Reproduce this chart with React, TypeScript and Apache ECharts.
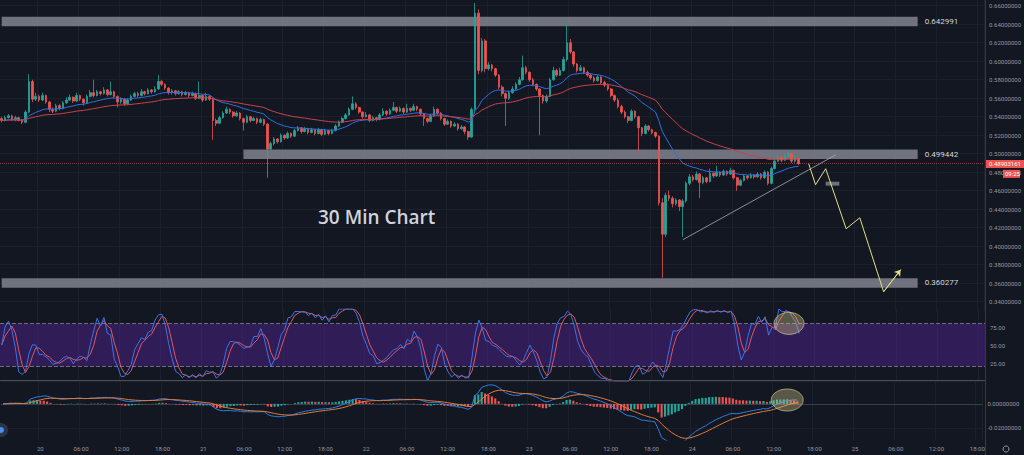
import React, { useEffect, useRef } from 'react';
import * as echarts from 'echarts';

// ---------- data (30 min candles, XRP-like pair) ----------
const firstOpen = 0.538;
const closes = [
  0.536, 0.539, 0.541, 0.537, 0.539, 0.536, 0.534, 0.545, 0.578, 0.559,
  0.562, 0.558, 0.563, 0.556, 0.548, 0.546, 0.552, 0.549, 0.555, 0.558,
  0.561, 0.557, 0.563, 0.559, 0.555, 0.562, 0.566, 0.563, 0.567, 0.565,
  0.569, 0.564, 0.567, 0.562, 0.556, 0.559, 0.554, 0.558, 0.562, 0.565,
  0.563, 0.567, 0.565, 0.569, 0.567, 0.570, 0.578, 0.575, 0.571, 0.566,
  0.568, 0.565, 0.567, 0.564, 0.566, 0.563, 0.565, 0.560, 0.563, 0.558,
  0.562, 0.559, 0.536, 0.533, 0.539, 0.544, 0.548, 0.545, 0.541, 0.544,
  0.538, 0.534, 0.540, 0.536, 0.538, 0.534, 0.537, 0.532, 0.505, 0.511,
  0.516, 0.513, 0.520, 0.517, 0.522, 0.519, 0.525, 0.528, 0.524, 0.527,
  0.523, 0.526, 0.522, 0.526, 0.521, 0.525, 0.522, 0.525, 0.530, 0.534,
  0.538, 0.542, 0.548, 0.554, 0.550, 0.545, 0.540, 0.542, 0.536, 0.539,
  0.537, 0.542, 0.546, 0.543, 0.547, 0.550, 0.546, 0.549, 0.545, 0.549,
  0.547, 0.551, 0.548, 0.543, 0.538, 0.535, 0.541, 0.548, 0.544, 0.538,
  0.532, 0.535, 0.530, 0.532, 0.527, 0.529, 0.524, 0.518, 0.548, 0.652,
  0.590, 0.622, 0.592, 0.596, 0.592, 0.585, 0.572, 0.565, 0.560, 0.566,
  0.570, 0.575, 0.580, 0.593, 0.588, 0.580, 0.575, 0.570, 0.563, 0.557,
  0.562, 0.580, 0.590, 0.585, 0.590, 0.602, 0.620, 0.610, 0.597, 0.590,
  0.593, 0.588, 0.585, 0.582, 0.579, 0.583, 0.577, 0.574, 0.570, 0.563,
  0.558, 0.551, 0.545, 0.540, 0.536, 0.546, 0.540, 0.528, 0.522, 0.530,
  0.526, 0.523, 0.519, 0.447, 0.413, 0.455, 0.452, 0.446, 0.450, 0.443,
  0.449, 0.468, 0.475, 0.472, 0.478, 0.469, 0.474, 0.470, 0.479, 0.476,
  0.480, 0.477, 0.481, 0.478, 0.482, 0.474, 0.466, 0.471, 0.476, 0.474,
  0.477, 0.475, 0.478, 0.474, 0.480, 0.468, 0.484, 0.492, 0.496, 0.493,
  0.497, 0.500, 0.492, 0.495, 0.48903161,
];
const highs = [
  0.540, 0.541, 0.543, 0.542, 0.541, 0.540, 0.537, 0.547, 0.586, 0.580,
  0.566, 0.564, 0.566, 0.564, 0.557, 0.550, 0.554, 0.554, 0.557, 0.561,
  0.564, 0.562, 0.566, 0.564, 0.560, 0.564, 0.569, 0.580, 0.569, 0.568,
  0.572, 0.570, 0.578, 0.568, 0.563, 0.561, 0.560, 0.560, 0.564, 0.567,
  0.567, 0.570, 0.568, 0.571, 0.570, 0.573, 0.585, 0.580, 0.576, 0.572,
  0.570, 0.569, 0.569, 0.568, 0.568, 0.567, 0.567, 0.566, 0.578, 0.564,
  0.566, 0.563, 0.560, 0.538, 0.541, 0.546, 0.551, 0.549, 0.546, 0.546,
  0.545, 0.539, 0.542, 0.541, 0.540, 0.539, 0.539, 0.538, 0.533, 0.513,
  0.518, 0.517, 0.522, 0.521, 0.524, 0.523, 0.527, 0.530, 0.529, 0.529,
  0.528, 0.528, 0.527, 0.528, 0.527, 0.527, 0.526, 0.527, 0.532, 0.536,
  0.540, 0.544, 0.550, 0.562, 0.556, 0.551, 0.546, 0.545, 0.543, 0.541,
  0.540, 0.544, 0.549, 0.547, 0.549, 0.556, 0.551, 0.551, 0.550, 0.554,
  0.550, 0.554, 0.552, 0.549, 0.544, 0.539, 0.543, 0.551, 0.549, 0.545,
  0.539, 0.537, 0.536, 0.534, 0.533, 0.531, 0.530, 0.525, 0.550, 0.663,
  0.656, 0.625, 0.624, 0.599, 0.597, 0.593, 0.586, 0.574, 0.566, 0.568,
  0.573, 0.577, 0.583, 0.606, 0.595, 0.589, 0.582, 0.576, 0.571, 0.564,
  0.564, 0.582, 0.594, 0.592, 0.593, 0.605, 0.6395, 0.624, 0.611, 0.598,
  0.596, 0.594, 0.590, 0.587, 0.584, 0.585, 0.584, 0.579, 0.576, 0.571,
  0.564, 0.560, 0.553, 0.547, 0.541, 0.548, 0.547, 0.541, 0.529, 0.532,
  0.531, 0.527, 0.524, 0.520, 0.452, 0.458, 0.460, 0.454, 0.452, 0.451,
  0.451, 0.470, 0.478, 0.477, 0.481, 0.479, 0.476, 0.475, 0.484, 0.480,
  0.487, 0.481, 0.483, 0.482, 0.485, 0.483, 0.475, 0.473, 0.478, 0.477,
  0.479, 0.478, 0.480, 0.479, 0.482, 0.481, 0.486, 0.494, 0.499, 0.497,
  0.499, 0.5025, 0.501, 0.4985, 0.496,
];
const lows = [
  0.534, 0.535, 0.538, 0.536, 0.535, 0.535, 0.532, 0.533, 0.544, 0.556,
  0.557, 0.556, 0.557, 0.554, 0.545, 0.544, 0.545, 0.547, 0.548, 0.554,
  0.557, 0.555, 0.556, 0.557, 0.552, 0.554, 0.561, 0.561, 0.562, 0.563,
  0.564, 0.562, 0.563, 0.560, 0.550, 0.554, 0.552, 0.553, 0.557, 0.561,
  0.561, 0.562, 0.563, 0.564, 0.565, 0.566, 0.569, 0.573, 0.569, 0.564,
  0.564, 0.563, 0.564, 0.562, 0.563, 0.561, 0.562, 0.558, 0.559, 0.556,
  0.557, 0.557, 0.515, 0.530, 0.532, 0.538, 0.543, 0.543, 0.539, 0.540,
  0.536, 0.525, 0.533, 0.534, 0.535, 0.532, 0.533, 0.530, 0.474, 0.503,
  0.509, 0.511, 0.512, 0.515, 0.516, 0.517, 0.518, 0.524, 0.522, 0.523,
  0.521, 0.522, 0.520, 0.521, 0.519, 0.520, 0.520, 0.521, 0.524, 0.529,
  0.533, 0.537, 0.541, 0.547, 0.548, 0.543, 0.538, 0.539, 0.534, 0.535,
  0.535, 0.536, 0.541, 0.541, 0.542, 0.546, 0.544, 0.545, 0.543, 0.544,
  0.545, 0.546, 0.546, 0.541, 0.530, 0.533, 0.534, 0.540, 0.542, 0.536,
  0.530, 0.531, 0.528, 0.529, 0.525, 0.526, 0.521, 0.515, 0.517, 0.546,
  0.586, 0.588, 0.588, 0.590, 0.589, 0.583, 0.570, 0.562, 0.530, 0.558,
  0.565, 0.569, 0.574, 0.579, 0.586, 0.578, 0.573, 0.568, 0.520, 0.554,
  0.555, 0.561, 0.579, 0.583, 0.584, 0.589, 0.600, 0.608, 0.594, 0.588,
  0.589, 0.586, 0.583, 0.580, 0.577, 0.578, 0.575, 0.572, 0.568, 0.561,
  0.556, 0.549, 0.543, 0.538, 0.533, 0.535, 0.538, 0.503, 0.519, 0.521,
  0.524, 0.521, 0.517, 0.444, 0.366, 0.410, 0.449, 0.442, 0.444, 0.438,
  0.410, 0.447, 0.466, 0.470, 0.471, 0.452, 0.467, 0.468, 0.469, 0.474,
  0.475, 0.475, 0.476, 0.476, 0.477, 0.472, 0.460, 0.465, 0.470, 0.472,
  0.473, 0.473, 0.474, 0.472, 0.473, 0.466, 0.467, 0.483, 0.491, 0.491,
  0.492, 0.496, 0.490, 0.4905, 0.488,
];

// time axis: 30-minute slots from 19th 18:30, labels every 6 hours
const slotCount = 289;
const startDay = 19;
const startMinute = 18 * 60 + 30;
const stepMinutes = 30;
const firstTickIndex = 11;
const tickStep = 12;
const tickLabels = [
  '20', '06:00', '12:00', '18:00', '21', '06:00', '12:00', '18:00',
  '22', '06:00', '12:00', '18:00', '23', '06:00', '12:00', '18:00',
  '24', '06:00', '12:00', '18:00', '25', '06:00', '12:00', '18:00',
];

// drawn annotations (category index, price)
const levels = [0.642991, 0.499442, 0.360277];
const levelStart = [0, 71, 0];
const levelEnd = 269;
const levelHalf = 0.0052;
const trendLine = [[200, 0.407], [245, 0.4989]];
const projection = [
  [237, 0.4892], [239, 0.4665], [242, 0.4838], [248, 0.4189],
  [252, 0.4308], [259, 0.3508], [264, 0.3746],
];
const smallBox = [[242, 0.4698], [246, 0.4655]];
const countdown = '09:25';

// ---------- indicator maths ----------
function ema(src: number[], n: number) {
  const k = 2 / (n + 1);
  const out: number[] = [];
  let prev = src[0];
  src.forEach((v, i) => {
    prev = i === 0 ? v : v * k + prev * (1 - k);
    out.push(prev);
  });
  return out;
}
function sma(src: number[], n: number) {
  return src.map((_, i) => {
    const s = Math.max(0, i - n + 1);
    let sum = 0;
    for (let j = s; j <= i; j++) sum += src[j];
    return sum / (i - s + 1);
  });
}
function rsi(src: number[], n: number) {
  let ag = 0, al = 0;
  const out = [50];
  for (let i = 1; i < src.length; i++) {
    const ch = src[i] - src[i - 1];
    const g = Math.max(ch, 0), l = Math.max(-ch, 0);
    const m = Math.min(i, n);
    ag = (ag * (m - 1) + g) / m;
    al = (al * (m - 1) + l) / m;
    out.push(al === 0 ? 100 : 100 - 100 / (1 + ag / al));
  }
  return out;
}
function stoch(src: number[], n: number) {
  return src.map((v, i) => {
    let lo = Infinity, hi = -Infinity;
    for (let j = Math.max(0, i - n + 1); j <= i; j++) {
      lo = Math.min(lo, src[j]);
      hi = Math.max(hi, src[j]);
    }
    return hi === lo ? 50 : ((v - lo) / (hi - lo)) * 100;
  });
}

const pad = (n: number) => String(n).padStart(2, '0');
const categories = Array.from({ length: slotCount }, (_, i) => {
  const m = startMinute + i * stepMinutes;
  const d = startDay + Math.floor(m / 1440);
  const mm = m % 1440;
  return `${d} ${pad(Math.floor(mm / 60))}:${pad(mm % 60)}`;
});

const opens = closes.map((_, i) => (i === 0 ? firstOpen : closes[i - 1]));
const ohlc = closes.map((c, i) => [opens[i], c, lows[i], highs[i]]);
const emaFast = ema(closes, 20);
const emaSlow = ema(closes, 50);
const rsiVals = rsi(closes, 14);
const kLine = sma(stoch(rsiVals, 14), 3);
const dLine = sma(kLine, 3);
const ema12 = ema(closes, 12);
const ema26 = ema(closes, 26);
const macd = ema12.map((v, i) => v - ema26[i]);
const signal = ema(macd, 9);
const hist = macd.map((v, i) => v - signal[i]);
const lastClose = closes[closes.length - 1];

const BG = '#131722';
const GRID_LINE = '#1c202b';
const AXIS_TEXT = '#9598a1';
const UP = '#26a69a';
const DOWN = '#ef5350';

function isTick(i: number) {
  return i >= firstTickIndex && (i - firstTickIndex) % tickStep === 0;
}

function buildOption(): any {
  const xAxes = [0, 1, 2].map((g) => ({
    type: 'category',
    gridIndex: g,
    data: categories,
    boundaryGap: true,
    axisLine: { show: g === 2, lineStyle: { color: '#3a3e4a' } },
    axisTick: { show: false },
    axisLabel: {
      show: g === 2,
      interval: 0,
      color: AXIS_TEXT,
      fontSize: 6,
      margin: 5,
      formatter: (_v: string, i: number) =>
        isTick(i) ? tickLabels[(i - firstTickIndex) / tickStep] || '' : '',
    },
    splitLine: {
      show: true,
      interval: (i: number) => isTick(i),
      lineStyle: { color: GRID_LINE, width: 1 },
    },
  }));

  return {
    backgroundColor: BG,
    animation: false,
    textStyle: { fontFamily: 'Roboto' },
    grid: [
      { left: -1, right: 39, top: 0, height: 311 },
      { left: -1, right: 39, top: 309, height: 72 },
      { left: -1, right: 39, top: 381, height: 59 },
    ],
    xAxis: xAxes,
    yAxis: [
      {
        type: 'value', gridIndex: 0, position: 'right',
        min: 0.33, max: 0.6662, interval: 0.01,
        axisLine: { show: false }, axisTick: { show: false },
        axisLabel: {
          color: AXIS_TEXT, fontSize: 6, margin: 5,
          formatter: (v: number) => {
            const r = Math.round(v * 100);
            return r % 2 === 0 && r >= 34 && r <= 66 ? (r / 100).toFixed(8) : '';
          },
        },
        splitLine: { show: true, lineStyle: { color: ['rgba(0,0,0,0)', GRID_LINE] } },
      },
      {
        type: 'value', gridIndex: 1, position: 'right',
        min: 0, max: 100, interval: 25,
        axisLine: { show: false }, axisTick: { show: false },
        axisLabel: {
          color: AXIS_TEXT, fontSize: 6, margin: 5,
          formatter: (v: number) => (v > 0 && v < 100 ? v.toFixed(2) : ''),
        },
        splitLine: { show: false },
      },
      {
        type: 'value', gridIndex: 2, position: 'right',
        min: -0.03, max: 0.019, interval: 0.01,
        axisLine: { show: false }, axisTick: { show: false },
        axisLabel: {
          color: AXIS_TEXT, fontSize: 6, margin: 5,
          formatter: (v: number) => {
            const r = Math.round(v * 100);
            return r === 0 || r === -2 ? (r / 100).toFixed(8) : '';
          },
        },
        splitLine: { show: true, lineStyle: { color: ['rgba(0,0,0,0)', GRID_LINE] } },
      },
    ],
    series: [
      {
        type: 'candlestick',
        name: 'price',
        xAxisIndex: 0, yAxisIndex: 0,
        data: ohlc,
        barWidth: '62%',
        itemStyle: { color: UP, color0: DOWN, borderColor: UP, borderColor0: DOWN, borderWidth: 0.8 },
        markLine: {
          silent: true,
          symbol: 'none',
          label: { show: false },
          lineStyle: { color: 'rgba(239,83,80,0.55)', type: 'dotted', width: 1 },
          data: [{ yAxis: lastClose }],
        },
      },
      {
        type: 'line', name: 'ema20', xAxisIndex: 0, yAxisIndex: 0,
        data: emaFast, showSymbol: false, symbol: 'none',
        lineStyle: { color: '#2f6fe4', width: 1 }, z: 3,
      },
      {
        type: 'line', name: 'ema50', xAxisIndex: 0, yAxisIndex: 0,
        data: emaSlow, showSymbol: false, symbol: 'none',
        lineStyle: { color: '#c9424b', width: 1 }, z: 3,
      },
      {
        type: 'line', name: 'levels', xAxisIndex: 0, yAxisIndex: 0,
        data: [], z: 4,
        markArea: {
          silent: true,
          itemStyle: { color: 'rgba(125,128,138,0.88)' },
          label: {
            show: true, position: 'right', distance: 7,
            color: '#d1d4dc', fontSize: 8, formatter: '{b}',
          },
          data: levels.map((lv, i) => [
            { name: String(lv), coord: [levelStart[i], lv + levelHalf] },
            { coord: [levelEnd, lv - levelHalf] },
          ]),
        },
      },
      {
        type: 'line', name: 'trend', xAxisIndex: 0, yAxisIndex: 0,
        data: trendLine, showSymbol: false, symbol: 'none',
        lineStyle: { color: '#a9acb6', width: 0.8 }, z: 5,
      },
      {
        type: 'line', name: 'projection', xAxisIndex: 0, yAxisIndex: 0,
        data: projection, showSymbol: false, symbol: 'none',
        lineStyle: { color: '#e4dd86', width: 1 }, z: 5,
        markLine: {
          silent: true,
          symbol: ['none', 'arrow'],
          symbolSize: 6,
          label: { show: false },
          lineStyle: { color: '#e4dd86', width: 1, type: 'solid' },
          data: [[
            { coord: projection[projection.length - 2] },
            { coord: projection[projection.length - 1] },
          ]],
        },
        markArea: {
          silent: true,
          itemStyle: { color: 'rgba(125,128,138,0.85)' },
          data: [[{ coord: smallBox[0] }, { coord: smallBox[1] }]],
        },
      },
      {
        type: 'line', name: 'K', xAxisIndex: 1, yAxisIndex: 1,
        data: kLine, showSymbol: false, symbol: 'none',
        lineStyle: { color: '#3b74e8', width: 1 }, z: 4,
        markArea: {
          silent: true,
          itemStyle: { color: 'rgba(100,40,180,0.36)' },
          data: [[{ yAxis: 20 }, { yAxis: 80 }]],
        },
        markLine: {
          silent: true, symbol: 'none', label: { show: false },
          lineStyle: { color: 'rgba(135,138,150,0.75)', type: 'dashed', width: 1 },
          data: [{ yAxis: 80 }, { yAxis: 20 }],
        },
      },
      {
        type: 'line', name: 'D', xAxisIndex: 1, yAxisIndex: 1,
        data: dLine, showSymbol: false, symbol: 'none',
        lineStyle: { color: '#e0575f', width: 1 }, z: 3,
      },
      {
        type: 'bar', name: 'hist', xAxisIndex: 2, yAxisIndex: 2,
        barWidth: '62%',
        data: hist.map((v, i) => ({
          value: v,
          itemStyle: { color: i > 0 && v >= hist[i - 1] ? UP : DOWN },
        })),
      },
      {
        type: 'line', name: 'macd', xAxisIndex: 2, yAxisIndex: 2,
        data: macd, showSymbol: false, symbol: 'none',
        lineStyle: { color: '#2f7de1', width: 1 }, z: 4,
      },
      {
        type: 'line', name: 'signal', xAxisIndex: 2, yAxisIndex: 2,
        data: signal, showSymbol: false, symbol: 'none',
        lineStyle: { color: '#e07b39', width: 1 }, z: 4,
      },
    ],
  };
}

export default function App() {
  const ref = useRef<HTMLDivElement>(null);
  useEffect(() => {
    document.body.style.margin = '0';
    const el = ref.current!;
    const chart = echarts.init(el, null, { renderer: 'svg' });
    chart.setOption(buildOption());

    const priceY = chart.convertToPixel({ yAxisIndex: 0 }, lastClose) as number;
    const e1 = chart.convertToPixel({ gridIndex: 1 }, [231, 80]) as number[];
    const e2 = chart.convertToPixel({ gridIndex: 2 }, [231, 0.0032]) as number[];

    chart.setOption({
      graphic: [
        { type: 'line', silent: true, shape: { x1: 985.5, y1: 0, x2: 985.5, y2: 455 }, style: { stroke: '#363a45', lineWidth: 1 }, z: 10 },
        { type: 'line', silent: true, shape: { x1: 0, y1: 380.5, x2: 985, y2: 380.5 }, style: { stroke: '#4a4e5a', lineWidth: 1 }, z: 10 },
        {
          type: 'text', silent: true, x: 318, y: 217, z: 10,
          style: {
            text: '30 Min Chart', fill: '#d1d4dc', fontSize: 19, fontWeight: 600,
            fontFamily: '"Open Sans"', verticalAlign: 'middle', align: 'left',
          },
        },
        {
          type: 'ellipse', silent: true, z: 10,
          shape: { cx: e1[0], cy: e1[1], rx: 15, ry: 11 },
          style: { fill: 'rgba(205,195,130,0.38)', stroke: 'rgba(225,215,160,0.6)', lineWidth: 1 },
        },
        {
          type: 'ellipse', silent: true, z: 10,
          shape: { cx: e2[0], cy: e2[1], rx: 16, ry: 11 },
          style: { fill: 'rgba(205,195,130,0.38)', stroke: 'rgba(225,215,160,0.6)', lineWidth: 1 },
        },
        {
          type: 'rect', silent: true, z: 11,
          shape: { x: 986, y: priceY - 4, width: 38, height: 8 },
          style: { fill: DOWN },
        },
        {
          type: 'text', silent: true, z: 12, x: 989, y: priceY,
          style: { text: lastClose.toFixed(8), fill: '#ffffff', fontSize: 6, fontFamily: 'Roboto', verticalAlign: 'middle' },
        },
        {
          type: 'rect', silent: true, z: 11,
          shape: { x: 1003, y: priceY + 6, width: 17, height: 8 },
          style: { fill: DOWN },
        },
        {
          type: 'text', silent: true, z: 12, x: 1005, y: priceY + 10,
          style: { text: countdown, fill: '#ffffff', fontSize: 6, fontFamily: 'Roboto', verticalAlign: 'middle' },
        },
        {
          type: 'circle', silent: true, z: 10,
          shape: { cx: 1, cy: 430, r: 7 },
          style: { fill: '#2a3448' },
        },
        {
          type: 'circle', silent: true, z: 11,
          shape: { cx: 1, cy: 430, r: 3 },
          style: { fill: '#4c8ee8' },
        },
        {
          type: 'circle', silent: true, z: 10,
          shape: { cx: 1006, cy: 449, r: 3 },
          style: { fill: 'none', stroke: '#9598a1', lineWidth: 1 },
        },
      ],
    });

    return () => chart.dispose();
  }, []);

  return (
    <div
      ref={ref}
      style={{ position: 'absolute', left: 0, top: 0, width: 1024, height: 455 }}
    />
  );
}
